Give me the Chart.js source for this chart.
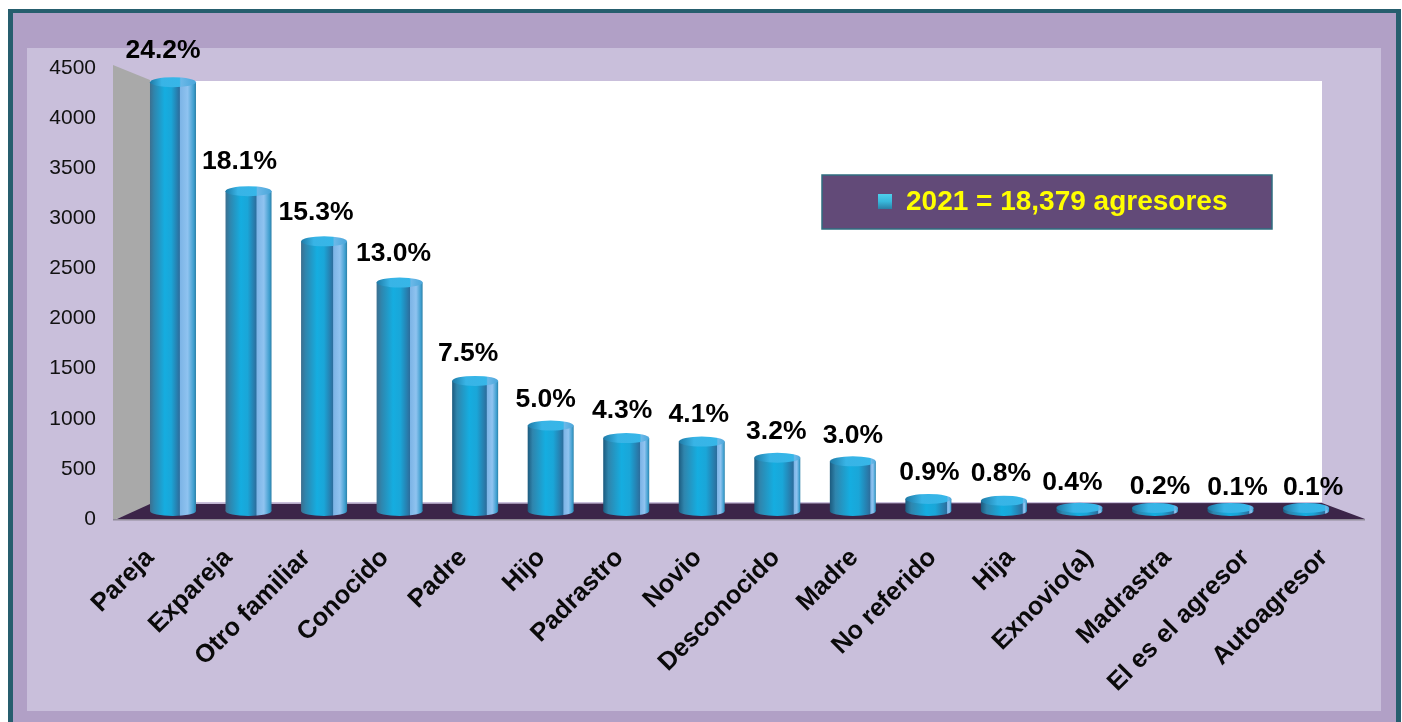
<!DOCTYPE html>
<html><head><meta charset="utf-8">
<style>html,body{margin:0;padding:0;background:#fff}canvas{display:block}</style>
<script src="https://cdn.jsdelivr.net/npm/chart.js@4"></script>
</head><body><canvas id="c" width="1402" height="722"></canvas>
<script>
const categories = ["Pareja","Expareja","Otro familiar","Conocido","Padre","Hijo","Padrastro","Novio","Desconocido","Madre","No referido","Hija","Exnovio(a)","Madrastra","El es el agresor","Autoagresor"];
const agresores = [4448,3327,2812,2389,1378,919,790,754,588,551,165,147,74,37,18,18];
const percentLabels = ["24.2%","18.1%","15.3%","13.0%","7.5%","5.0%","4.3%","4.1%","3.2%","3.0%","0.9%","0.8%","0.4%","0.2%","0.1%","0.1%"];
const seriesName = "2021 = 18,379 agresores";
const yTickStep = 500, yMax = 4500;
// label nudges relative to the top of each cylinder
const labelDx = [-10,-9,-8,-6,-7,-5,-4,-3,-1,0,1,-3,-7,5,7,7];
const labelDy = [27,26,25,25,23,22,23,23,22,22,22,23,21,21,22,22];

const FONT='"Liberation Sans", Arial, sans-serif';
function cylGradient(ctx,x0,x1,split,edge){
  const g=ctx.createLinearGradient(x0,0,x1,0);
  const s=split;
  g.addColorStop(0,edge);g.addColorStop(s*.14,'#2f85ad');g.addColorStop(s*.5,'#15ade0');
  g.addColorStop(s*.72,'#1aa6d8');g.addColorStop(s*.96,'#2a76a6');g.addColorStop(s,'#2a6f9e');
  g.addColorStop(s+.015,'#7cb4e6');g.addColorStop(s+(1-s)*.5,'#8fc3f0');g.addColorStop(s+(1-s)*.86,'#3f9fcf');g.addColorStop(1,'#2b7fa6');
  return g;
}
const scenery={id:'scenery',beforeDraw(ch){
  const c=ch.ctx,a=ch.chartArea;
  c.save();
  c.fillStyle='#fff';c.fillRect(0,0,1402,722);
  c.fillStyle='#265e6e';c.fillRect(8,9,1393,713);
  c.fillStyle='#b1a0c6';c.fillRect(13,13,1383,709);
  c.fillStyle='#c9bfdb';c.fillRect(27,48,1354,663);
  c.fillStyle='#ffffff';c.fillRect(a.left+37,a.top+15,a.right-a.left-80,a.bottom-a.top-30);
  // wall
  c.fillStyle='#a9a9a9';c.beginPath();
  c.moveTo(a.left,a.top-1);c.lineTo(a.left+37,a.top+14);c.lineTo(a.left+37,a.bottom-10);c.lineTo(a.left,a.bottom+3);c.closePath();c.fill();
  // floor
  c.fillStyle='#3c2549';c.beginPath();
  c.moveTo(a.left+37,a.bottom-13);c.lineTo(a.right-43,a.bottom-14);c.lineTo(a.right,a.bottom+2);c.lineTo(a.left+4,a.bottom+2);c.closePath();c.fill();
  c.fillStyle='#8f8a97';c.fillRect(a.left,a.bottom+2,a.right-a.left,1.5);
  c.restore();
}};
const cylinders={id:'cylinders',afterDatasetsDraw(ch){
  const c=ch.ctx,m=ch.getDatasetMeta(0);
  m.data.forEach((b,i)=>{
    const w=b.width,x0=b.x-w/2,x1=b.x+w/2,ry=5;
    const split=Math.min(.9,.64+.026*i);
    const topY=Math.min(b.y+4,b.base-3);
    const edge=i<4?'#3c6f8f':'#1c5a7e';
    c.save();
    c.fillStyle=cylGradient(c,x0,x1,split,edge);
    c.fillRect(x0,topY,w,Math.max(0,b.base-topY));
    c.beginPath();c.ellipse(b.x,b.base,w/2,ry,0,0,Math.PI*2);c.fill();
    const t=c.createLinearGradient(x0,0,x1,0);
    t.addColorStop(0,'#1f7aa6');t.addColorStop(split*.4,'#38b4e6');t.addColorStop(split,'#36b6e8');t.addColorStop(Math.min(1,split+.03),'#6bb8e8');t.addColorStop(1,'#4aa6da');
    c.fillStyle=t;
    c.beginPath();c.ellipse(b.x,topY,w/2,5,0,0,Math.PI*2);c.fill();
    c.restore();
    // percentage label
    c.save();
    c.font='bold 26.5px '+FONT;c.fillStyle='#000';c.textAlign='center';c.textBaseline='middle';
    c.fillText(percentLabels[i],b.x+labelDx[i],b.y-labelDy[i]);
    c.restore();
  });
  // legend
  c.save();
  c.fillStyle='#624a78';c.strokeStyle='#2f6e80';c.lineWidth=1.5;
  c.fillRect(822,175,450,54);c.strokeRect(822,175,450,54);
  const g=c.createLinearGradient(0,194,0,209);
  g.addColorStop(0,'#4fd0ec');g.addColorStop(.5,'#38b8dc');g.addColorStop(1,'#2b7fa6');
  c.fillStyle=g;c.fillRect(878,194,14,15);
  c.font='bold 28px '+FONT;c.fillStyle='#ffff00';c.textAlign='left';c.textBaseline='middle';
  c.fillText(ch.data.datasets[0].label,906,202);
  c.restore();
}};
new Chart(document.getElementById('c'),{
  type:'bar',
  data:{labels:categories,datasets:[{
    label:seriesName,
    data:agresores.map((v,i)=>({x:i,y:v})),
    xAxisID:'xBars',yAxisID:'yBars',
    barThickness:46,
    backgroundColor:'rgba(26,166,216,0)',
    borderWidth:0
  }]},
  options:{
    responsive:false,animation:false,
    layout:{padding:{top:66,right:37,bottom:0,left:0}},
    plugins:{legend:{display:false},tooltip:{enabled:false},title:{display:false}},
    scales:{
      x:{type:'category',offset:true,position:'bottom',
        grid:{display:false,drawTicks:false},border:{display:false},
        ticks:{autoSkip:false,minRotation:45,maxRotation:45,padding:26,labelOffset:-2,font:{family:FONT,size:25.5,weight:'bold'},color:'#0a0a0a'},
        afterFit(s){s.height=205;}},
      y:{type:'linear',position:'left',min:0,max:yMax,
        grid:{display:false,drawTicks:false},border:{display:false},
        ticks:{stepSize:yTickStep,padding:17,labelOffset:2,font:{family:FONT,size:21},color:'#111',callback:v=>String(v)},
        afterFit(s){s.width=113;}},
      xBars:{type:'linear',display:false,min:-0.794,max:15.78,offset:false},
      yBars:{type:'linear',display:false,min:-62,max:4573}
    }
  },
  plugins:[scenery,cylinders]
});
</script></body></html>
